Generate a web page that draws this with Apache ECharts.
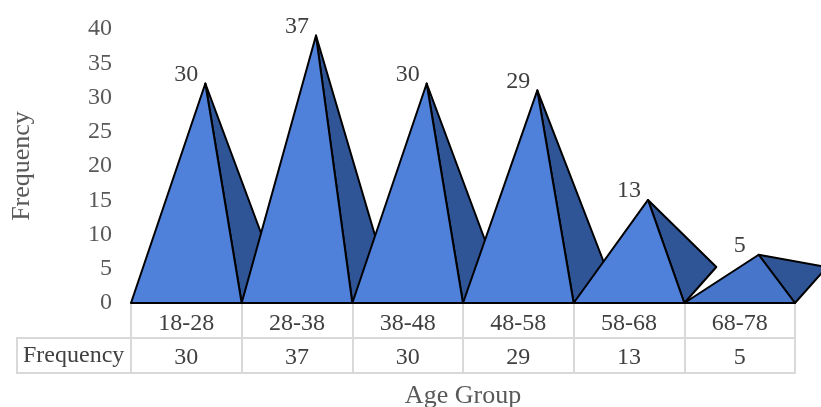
<!DOCTYPE html>
<html>
<head>
<meta charset="utf-8">
<script src="https://cdn.jsdelivr.net/npm/echarts@6/dist/echarts.min.js"></script>
<style>
  html, body { margin: 0; padding: 0; background: #fff; }
  #main { width: 821px; height: 407px; }
</style>
</head>
<body>
<div id="main"></div>
<script>
// 数据
var categories = ['18-28', '28-38', '38-48', '48-58', '58-68', '68-78'];
var frequency = [30, 37, 30, 29, 13, 5];
var yMin = 0, yMax = 40, yStep = 5;

var font = 'Liberation Serif';
var gridColor = '#D9D9D9';

var myChart = echarts.init(document.getElementById('main'));

// 金字塔 (仿 Excel 3D pyramid)
function renderPyramid(params, api) {
    var i = api.value(0);
    var v = api.value(1);
    var base = api.coord([i, 0]);
    var top = api.coord([i, v]);
    var bw = api.size([1, 0])[0];
    var L = [base[0] - bw / 2, base[1]];
    var R = [base[0] + bw / 2, base[1]];
    var A = [base[0] + 19, top[1] - 14];   // 顶点 (透视偏移)
    var B = [R[0] + 32, R[1] - 36];        // 底面后角
    var last = i === categories.length - 1;
    return {
        type: 'group',
        children: [
            {
                type: 'polygon',
                shape: { points: [A, R, B] },
                style: { fill: '#2F5597', stroke: '#000', lineWidth: 2, lineJoin: 'round' }
            },
            {
                type: 'polygon',
                shape: { points: [L, R, A] },
                style: { fill: last ? '#4675C9' : '#4F81DA', stroke: '#000', lineWidth: 2, lineJoin: 'round' }
            },
            {
                type: 'text',
                style: {
                    x: base[0], y: A[1] + 3,
                    text: String(v),
                    fill: '#404040',
                    font: '24px "' + font + '"',
                    align: 'center', verticalAlign: 'bottom'
                }
            }
        ]
    };
}

var option = {
    animation: false,
    grid: { left: 131, right: 26, top: 29, bottom: 104, outerBoundsMode: 'none', containLabel: false },
    xAxis: [
        {
            type: 'category',
            data: categories,
            position: 'bottom',
            axisLine: { show: true, lineStyle: { color: '#000', width: 2 } },
            axisTick: { show: true, length: 35, lineStyle: { color: gridColor, width: 2 } },
            axisLabel: { margin: 9, color: '#404040', fontFamily: font, fontSize: 24 },
            splitLine: { show: false }
        },
        {
            type: 'category',
            data: frequency.map(String),
            position: 'bottom',
            offset: 35,
            axisLine: { show: true, lineStyle: { color: gridColor, width: 2 } },
            axisTick: { show: true, length: 35, lineStyle: { color: gridColor, width: 2 } },
            axisLabel: { margin: 8, color: '#404040', fontFamily: font, fontSize: 24 },
            splitLine: { show: false }
        },
        {
            type: 'category',
            data: categories,
            position: 'bottom',
            offset: 70,
            axisLine: { show: true, lineStyle: { color: gridColor, width: 2 } },
            axisTick: { show: false },
            axisLabel: { show: false },
            name: 'Age Group',
            nameLocation: 'middle',
            nameGap: 10,
            nameTextStyle: { color: '#595959', fontFamily: font, fontSize: 26, verticalAlign: 'top' }
        }
    ],
    yAxis: {
        type: 'value',
        min: yMin,
        max: yMax,
        interval: yStep,
        axisLine: { show: false },
        axisTick: { show: false },
        splitLine: { show: false },
        axisLabel: { margin: 19, color: '#595959', fontFamily: font, fontSize: 24 },
        name: 'Frequency',
        nameLocation: 'middle',
        nameGap: 96,
        nameTextStyle: { color: '#595959', fontFamily: font, fontSize: 26 }
    },
    graphic: [
        // 数据表左侧表头
        { type: 'line', shape: { x1: 17, y1: 338, x2: 131, y2: 338 }, style: { stroke: gridColor, lineWidth: 2 } },
        { type: 'line', shape: { x1: 17, y1: 373, x2: 131, y2: 373 }, style: { stroke: gridColor, lineWidth: 2 } },
        { type: 'line', shape: { x1: 17, y1: 337, x2: 17, y2: 374 }, style: { stroke: gridColor, lineWidth: 2 } },
        {
            type: 'text', left: 23, top: 344,
            style: { text: 'Frequency', fill: '#404040', font: '24px "' + font + '"' }
        }
    ],
    series: [
        {
            type: 'custom',
            renderItem: renderPyramid,
            clip: false,
            encode: { x: 0, y: 1 },
            data: categories.map(function (c, i) { return [i, frequency[i]]; })
        }
    ]
};

myChart.setOption(option);
</script>
</body>
</html>
